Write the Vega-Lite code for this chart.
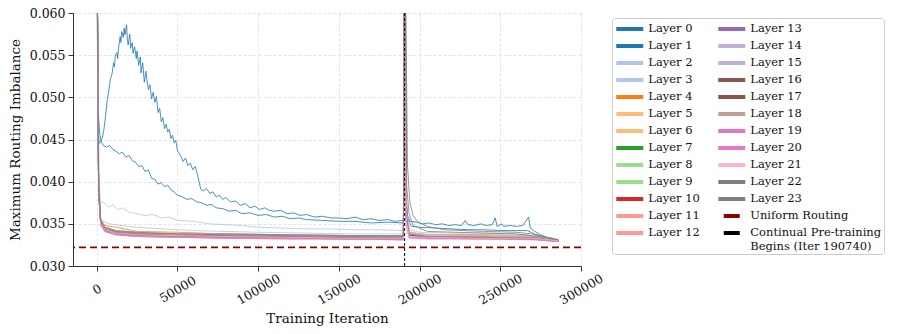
{
"$schema":"https://vega.github.io/schema/vega-lite/v6.json",
"width":508,"height":253,
"autosize":{"type":"none"},
"padding":{"left":73,"top":13,"right":316,"bottom":68},
"background":"white",
"config":{
 "view":{"stroke":null},
 "axis":{"labelFont":"DejaVu Serif","titleFont":"DejaVu Serif","labelFontSize":12.5,"titleFontSize":13.5,"titleFontWeight":"normal","domainColor":"#333","domainWidth":1,"tickColor":"#333","tickSize":5,"labelColor":"#111","titleColor":"#111","gridColor":"#dcdcdc","gridDash":[3,2],"gridWidth":0.8},
 "legend":{"labelFont":"DejaVu Serif","labelFontSize":11.5,"labelColor":"#111","symbolType":"M-2,0H2","symbolStrokeWidth":4,"symbolSize":182,"symbolOffset":6.75,"symbolOpacity":1,"labelOffset":9.5,"rowPadding":-0.2,"columnPadding":10,"padding":2,"fillColor":"white","strokeColor":"#cccccc","cornerRadius":3,"labelLimit":300}
},
"datasets":{"lines":[
{"l":"Layer 0","x":0,"y":0.075},{"l":"Layer 0","x":800,"y":0.047},{"l":"Layer 0","x":1500,"y":0.0445},{"l":"Layer 0","x":2500,"y":0.0448},{"l":"Layer 0","x":3500,"y":0.0452},{"l":"Layer 0","x":4500,"y":0.0462},{"l":"Layer 0","x":5500,"y":0.0478},{"l":"Layer 0","x":6500,"y":0.0496},{"l":"Layer 0","x":7500,"y":0.0508},{"l":"Layer 0","x":8500,"y":0.0522},{"l":"Layer 0","x":9500,"y":0.0528},{"l":"Layer 0","x":10500,"y":0.0541},{"l":"Layer 0","x":11000,"y":0.0536},{"l":"Layer 0","x":11500,"y":0.0549},{"l":"Layer 0","x":12500,"y":0.0553},{"l":"Layer 0","x":13000,"y":0.0546},{"l":"Layer 0","x":13500,"y":0.0558},{"l":"Layer 0","x":14500,"y":0.0572},{"l":"Layer 0","x":15000,"y":0.0565},{"l":"Layer 0","x":15500,"y":0.0578},{"l":"Layer 0","x":16500,"y":0.0571},{"l":"Layer 0","x":17000,"y":0.0582},{"l":"Layer 0","x":17500,"y":0.0574},{"l":"Layer 0","x":18500,"y":0.0586},{"l":"Layer 0","x":19000,"y":0.0569},{"l":"Layer 0","x":19500,"y":0.0562},{"l":"Layer 0","x":20500,"y":0.0575},{"l":"Layer 0","x":21000,"y":0.0558},{"l":"Layer 0","x":22000,"y":0.0565},{"l":"Layer 0","x":22500,"y":0.0552},{"l":"Layer 0","x":23500,"y":0.056},{"l":"Layer 0","x":24500,"y":0.0546},{"l":"Layer 0","x":25000,"y":0.0555},{"l":"Layer 0","x":26000,"y":0.0538},{"l":"Layer 0","x":27000,"y":0.0548},{"l":"Layer 0","x":27500,"y":0.0529},{"l":"Layer 0","x":28500,"y":0.0541},{"l":"Layer 0","x":29500,"y":0.0518},{"l":"Layer 0","x":30500,"y":0.0531},{"l":"Layer 0","x":31000,"y":0.0522},{"l":"Layer 0","x":32000,"y":0.0509},{"l":"Layer 0","x":33000,"y":0.0515},{"l":"Layer 0","x":34000,"y":0.0498},{"l":"Layer 0","x":35000,"y":0.0506},{"l":"Layer 0","x":36000,"y":0.0494},{"l":"Layer 0","x":37000,"y":0.0501},{"l":"Layer 0","x":38000,"y":0.0482},{"l":"Layer 0","x":39000,"y":0.0487},{"l":"Layer 0","x":40000,"y":0.0471},{"l":"Layer 0","x":41000,"y":0.0476},{"l":"Layer 0","x":42000,"y":0.0463},{"l":"Layer 0","x":43000,"y":0.0468},{"l":"Layer 0","x":44000,"y":0.0459},{"l":"Layer 0","x":45000,"y":0.0462},{"l":"Layer 0","x":46000,"y":0.0451},{"l":"Layer 0","x":47000,"y":0.0455},{"l":"Layer 0","x":48000,"y":0.0446},{"l":"Layer 0","x":49000,"y":0.0449},{"l":"Layer 0","x":50000,"y":0.0437},{"l":"Layer 0","x":52000,"y":0.0431},{"l":"Layer 0","x":53500,"y":0.0424},{"l":"Layer 0","x":55000,"y":0.0428},{"l":"Layer 0","x":56500,"y":0.0419},{"l":"Layer 0","x":58000,"y":0.0422},{"l":"Layer 0","x":59500,"y":0.0414},{"l":"Layer 0","x":61000,"y":0.0418},{"l":"Layer 0","x":62500,"y":0.0408},{"l":"Layer 0","x":63500,"y":0.0399},{"l":"Layer 0","x":64500,"y":0.0391},{"l":"Layer 0","x":66000,"y":0.0389},{"l":"Layer 0","x":68000,"y":0.0392},{"l":"Layer 0","x":70000,"y":0.0386},{"l":"Layer 0","x":72000,"y":0.0388},{"l":"Layer 0","x":74000,"y":0.0382},{"l":"Layer 0","x":76000,"y":0.0384},{"l":"Layer 0","x":78000,"y":0.0379},{"l":"Layer 0","x":80000,"y":0.0381},{"l":"Layer 0","x":83000,"y":0.0376},{"l":"Layer 0","x":86000,"y":0.0377},{"l":"Layer 0","x":89000,"y":0.0372},{"l":"Layer 0","x":92000,"y":0.0374},{"l":"Layer 0","x":95000,"y":0.0369},{"l":"Layer 0","x":98000,"y":0.0371},{"l":"Layer 0","x":101000,"y":0.0367},{"l":"Layer 0","x":104000,"y":0.0369},{"l":"Layer 0","x":107000,"y":0.0366},{"l":"Layer 0","x":110000,"y":0.0365},{"l":"Layer 0","x":114000,"y":0.0366},{"l":"Layer 0","x":118000,"y":0.0362},{"l":"Layer 0","x":122000,"y":0.0363},{"l":"Layer 0","x":126000,"y":0.036},{"l":"Layer 0","x":130000,"y":0.0361},{"l":"Layer 0","x":135000,"y":0.0358},{"l":"Layer 0","x":140000,"y":0.0359},{"l":"Layer 0","x":145000,"y":0.0357},{"l":"Layer 0","x":150000,"y":0.0357},{"l":"Layer 0","x":155000,"y":0.0356},{"l":"Layer 0","x":160000,"y":0.0358},{"l":"Layer 0","x":165000,"y":0.0355},{"l":"Layer 0","x":170000,"y":0.0356},{"l":"Layer 0","x":175000,"y":0.0354},{"l":"Layer 0","x":180000,"y":0.0355},{"l":"Layer 0","x":185000,"y":0.0353},{"l":"Layer 0","x":190000,"y":0.0354},{"l":"Layer 0","x":190740,"y":0.075},{"l":"Layer 0","x":191500,"y":0.039},{"l":"Layer 0","x":192500,"y":0.036},{"l":"Layer 0","x":194000,"y":0.0353},{"l":"Layer 0","x":198000,"y":0.0352},{"l":"Layer 0","x":202000,"y":0.035},{"l":"Layer 0","x":206000,"y":0.0351},{"l":"Layer 0","x":210000,"y":0.0349},{"l":"Layer 0","x":214000,"y":0.035},{"l":"Layer 0","x":218000,"y":0.0348},{"l":"Layer 0","x":222000,"y":0.0349},{"l":"Layer 0","x":226000,"y":0.0348},{"l":"Layer 0","x":228300,"y":0.0354},{"l":"Layer 0","x":230000,"y":0.0349},{"l":"Layer 0","x":234000,"y":0.0348},{"l":"Layer 0","x":238000,"y":0.035},{"l":"Layer 0","x":241000,"y":0.0348},{"l":"Layer 0","x":245000,"y":0.0349},{"l":"Layer 0","x":246900,"y":0.0357},{"l":"Layer 0","x":248000,"y":0.0347},{"l":"Layer 0","x":251000,"y":0.035},{"l":"Layer 0","x":252000,"y":0.0347},{"l":"Layer 0","x":256000,"y":0.0348},{"l":"Layer 0","x":260000,"y":0.0347},{"l":"Layer 0","x":264000,"y":0.0348},{"l":"Layer 0","x":267500,"y":0.0358},{"l":"Layer 0","x":268600,"y":0.0345},{"l":"Layer 0","x":270700,"y":0.0342},{"l":"Layer 0","x":274800,"y":0.0337},{"l":"Layer 0","x":278900,"y":0.0334},{"l":"Layer 0","x":282000,"y":0.0333},{"l":"Layer 0","x":286000,"y":0.0331},
{"l":"Layer 1","x":0,"y":0.07},{"l":"Layer 1","x":600,"y":0.052},{"l":"Layer 1","x":1200,"y":0.0475},{"l":"Layer 1","x":2000,"y":0.0455},{"l":"Layer 1","x":3000,"y":0.0447},{"l":"Layer 1","x":4000,"y":0.0443},{"l":"Layer 1","x":6000,"y":0.0441},{"l":"Layer 1","x":8000,"y":0.0443},{"l":"Layer 1","x":10000,"y":0.0438},{"l":"Layer 1","x":12000,"y":0.0436},{"l":"Layer 1","x":14000,"y":0.0433},{"l":"Layer 1","x":16000,"y":0.0435},{"l":"Layer 1","x":18000,"y":0.0429},{"l":"Layer 1","x":20000,"y":0.0431},{"l":"Layer 1","x":22000,"y":0.0425},{"l":"Layer 1","x":24000,"y":0.0423},{"l":"Layer 1","x":26000,"y":0.0418},{"l":"Layer 1","x":28000,"y":0.0419},{"l":"Layer 1","x":30000,"y":0.0412},{"l":"Layer 1","x":32000,"y":0.0414},{"l":"Layer 1","x":34000,"y":0.0404},{"l":"Layer 1","x":36000,"y":0.0403},{"l":"Layer 1","x":38000,"y":0.0397},{"l":"Layer 1","x":40000,"y":0.0399},{"l":"Layer 1","x":42000,"y":0.0394},{"l":"Layer 1","x":44000,"y":0.0396},{"l":"Layer 1","x":46000,"y":0.039},{"l":"Layer 1","x":48000,"y":0.0388},{"l":"Layer 1","x":50000,"y":0.0384},{"l":"Layer 1","x":53000,"y":0.0382},{"l":"Layer 1","x":56000,"y":0.0379},{"l":"Layer 1","x":59000,"y":0.038},{"l":"Layer 1","x":62000,"y":0.0376},{"l":"Layer 1","x":65000,"y":0.0375},{"l":"Layer 1","x":68000,"y":0.0372},{"l":"Layer 1","x":71000,"y":0.0373},{"l":"Layer 1","x":74000,"y":0.0369},{"l":"Layer 1","x":78000,"y":0.0368},{"l":"Layer 1","x":82000,"y":0.0365},{"l":"Layer 1","x":86000,"y":0.0366},{"l":"Layer 1","x":90000,"y":0.0362},{"l":"Layer 1","x":95000,"y":0.0363},{"l":"Layer 1","x":100000,"y":0.036},{"l":"Layer 1","x":105000,"y":0.0361},{"l":"Layer 1","x":110000,"y":0.0358},{"l":"Layer 1","x":115000,"y":0.0359},{"l":"Layer 1","x":120000,"y":0.0356},{"l":"Layer 1","x":125000,"y":0.0357},{"l":"Layer 1","x":130000,"y":0.0355},{"l":"Layer 1","x":140000,"y":0.0354},{"l":"Layer 1","x":150000,"y":0.0353},{"l":"Layer 1","x":160000,"y":0.0353},{"l":"Layer 1","x":170000,"y":0.0351},{"l":"Layer 1","x":180000,"y":0.0352},{"l":"Layer 1","x":190000,"y":0.0351},{"l":"Layer 1","x":190740,"y":0.075},{"l":"Layer 1","x":191500,"y":0.0385},{"l":"Layer 1","x":192500,"y":0.0356},{"l":"Layer 1","x":195000,"y":0.0347},{"l":"Layer 1","x":200000,"y":0.0346},{"l":"Layer 1","x":210000,"y":0.0345},{"l":"Layer 1","x":220000,"y":0.0344},{"l":"Layer 1","x":230000,"y":0.0343},{"l":"Layer 1","x":240000,"y":0.0343},{"l":"Layer 1","x":250000,"y":0.0342},{"l":"Layer 1","x":260000,"y":0.0342},{"l":"Layer 1","x":267000,"y":0.0342},{"l":"Layer 1","x":270000,"y":0.0339},{"l":"Layer 1","x":274000,"y":0.0336},{"l":"Layer 1","x":278000,"y":0.0334},{"l":"Layer 1","x":282000,"y":0.0332},{"l":"Layer 1","x":286000,"y":0.0331},
{"l":"Layer 2","x":0,"y":0.07},{"l":"Layer 2","x":1500,"y":0.04},{"l":"Layer 2","x":2500,"y":0.0374},{"l":"Layer 2","x":4000,"y":0.0376},{"l":"Layer 2","x":6000,"y":0.0372},{"l":"Layer 2","x":8000,"y":0.037},{"l":"Layer 2","x":10000,"y":0.0373},{"l":"Layer 2","x":13000,"y":0.0367},{"l":"Layer 2","x":16000,"y":0.0369},{"l":"Layer 2","x":20000,"y":0.0364},{"l":"Layer 2","x":25000,"y":0.0362},{"l":"Layer 2","x":30000,"y":0.036},{"l":"Layer 2","x":35000,"y":0.0361},{"l":"Layer 2","x":40000,"y":0.0357},{"l":"Layer 2","x":45000,"y":0.0358},{"l":"Layer 2","x":50000,"y":0.0354},{"l":"Layer 2","x":60000,"y":0.0353},{"l":"Layer 2","x":70000,"y":0.035},{"l":"Layer 2","x":80000,"y":0.0349},{"l":"Layer 2","x":90000,"y":0.0348},{"l":"Layer 2","x":100000,"y":0.0346},{"l":"Layer 2","x":115000,"y":0.0345},{"l":"Layer 2","x":130000,"y":0.0344},{"l":"Layer 2","x":145000,"y":0.0344},{"l":"Layer 2","x":160000,"y":0.0343},{"l":"Layer 2","x":175000,"y":0.0343},{"l":"Layer 2","x":190000,"y":0.0342},{"l":"Layer 2","x":190740,"y":0.075},{"l":"Layer 2","x":192000,"y":0.036},{"l":"Layer 2","x":194000,"y":0.0343},{"l":"Layer 2","x":200000,"y":0.034},{"l":"Layer 2","x":220000,"y":0.0339},{"l":"Layer 2","x":240000,"y":0.0339},{"l":"Layer 2","x":260000,"y":0.0338},{"l":"Layer 2","x":270000,"y":0.0336},{"l":"Layer 2","x":286000,"y":0.0331},
{"l":"Layer 3","x":0,"y":0.07},{"l":"Layer 3","x":1500,"y":0.038},{"l":"Layer 3","x":2500,"y":0.0355},{"l":"Layer 3","x":4000,"y":0.0353},{"l":"Layer 3","x":8000,"y":0.035},{"l":"Layer 3","x":15000,"y":0.0348},{"l":"Layer 3","x":25000,"y":0.0346},{"l":"Layer 3","x":40000,"y":0.0344},{"l":"Layer 3","x":60000,"y":0.0342},{"l":"Layer 3","x":80000,"y":0.0341},{"l":"Layer 3","x":100000,"y":0.034},{"l":"Layer 3","x":130000,"y":0.0339},{"l":"Layer 3","x":160000,"y":0.0338},{"l":"Layer 3","x":190000,"y":0.0338},{"l":"Layer 3","x":190740,"y":0.075},{"l":"Layer 3","x":192000,"y":0.0355},{"l":"Layer 3","x":194000,"y":0.034},{"l":"Layer 3","x":200000,"y":0.0338},{"l":"Layer 3","x":230000,"y":0.0337},{"l":"Layer 3","x":260000,"y":0.0336},{"l":"Layer 3","x":270000,"y":0.0335},{"l":"Layer 3","x":286000,"y":0.0331},
{"l":"Layer 4","x":0,"y":0.075},{"l":"Layer 4","x":1200,"y":0.0395},{"l":"Layer 4","x":2500,"y":0.0356},{"l":"Layer 4","x":5000,"y":0.0348},{"l":"Layer 4","x":12000,"y":0.0346},{"l":"Layer 4","x":25000,"y":0.0341},{"l":"Layer 4","x":50000,"y":0.034},{"l":"Layer 4","x":80000,"y":0.0338},{"l":"Layer 4","x":120000,"y":0.0337},{"l":"Layer 4","x":160000,"y":0.0336},{"l":"Layer 4","x":190000,"y":0.0336},{"l":"Layer 4","x":190740,"y":0.075},{"l":"Layer 4","x":191600,"y":0.0366},{"l":"Layer 4","x":193500,"y":0.034},{"l":"Layer 4","x":205000,"y":0.0337},{"l":"Layer 4","x":240000,"y":0.0337},{"l":"Layer 4","x":270000,"y":0.0336},{"l":"Layer 4","x":286000,"y":0.0331},
{"l":"Layer 5","x":0,"y":0.075},{"l":"Layer 5","x":1200,"y":0.0393},{"l":"Layer 5","x":2500,"y":0.0354},{"l":"Layer 5","x":5000,"y":0.0346},{"l":"Layer 5","x":12000,"y":0.0342},{"l":"Layer 5","x":25000,"y":0.034},{"l":"Layer 5","x":50000,"y":0.0339},{"l":"Layer 5","x":80000,"y":0.0338},{"l":"Layer 5","x":120000,"y":0.0337},{"l":"Layer 5","x":160000,"y":0.0336},{"l":"Layer 5","x":190000,"y":0.0336},{"l":"Layer 5","x":190740,"y":0.075},{"l":"Layer 5","x":191600,"y":0.0364},{"l":"Layer 5","x":193500,"y":0.034},{"l":"Layer 5","x":205000,"y":0.0337},{"l":"Layer 5","x":240000,"y":0.0336},{"l":"Layer 5","x":270000,"y":0.0336},{"l":"Layer 5","x":286000,"y":0.0331},
{"l":"Layer 6","x":0,"y":0.075},{"l":"Layer 6","x":1200,"y":0.0391},{"l":"Layer 6","x":2500,"y":0.0353},{"l":"Layer 6","x":5000,"y":0.0345},{"l":"Layer 6","x":12000,"y":0.0341},{"l":"Layer 6","x":25000,"y":0.0339},{"l":"Layer 6","x":50000,"y":0.0338},{"l":"Layer 6","x":80000,"y":0.0337},{"l":"Layer 6","x":120000,"y":0.0336},{"l":"Layer 6","x":160000,"y":0.0335},{"l":"Layer 6","x":190000,"y":0.0335},{"l":"Layer 6","x":190740,"y":0.075},{"l":"Layer 6","x":191600,"y":0.0363},{"l":"Layer 6","x":193500,"y":0.0339},{"l":"Layer 6","x":205000,"y":0.0336},{"l":"Layer 6","x":240000,"y":0.0336},{"l":"Layer 6","x":270000,"y":0.0335},{"l":"Layer 6","x":286000,"y":0.033},
{"l":"Layer 7","x":0,"y":0.075},{"l":"Layer 7","x":1200,"y":0.0388},{"l":"Layer 7","x":2500,"y":0.035},{"l":"Layer 7","x":5000,"y":0.0342},{"l":"Layer 7","x":12000,"y":0.0338},{"l":"Layer 7","x":25000,"y":0.0336},{"l":"Layer 7","x":50000,"y":0.0335},{"l":"Layer 7","x":80000,"y":0.0334},{"l":"Layer 7","x":120000,"y":0.0333},{"l":"Layer 7","x":160000,"y":0.0332},{"l":"Layer 7","x":190000,"y":0.0332},{"l":"Layer 7","x":190740,"y":0.075},{"l":"Layer 7","x":191600,"y":0.036},{"l":"Layer 7","x":193500,"y":0.0336},{"l":"Layer 7","x":205000,"y":0.0333},{"l":"Layer 7","x":240000,"y":0.0333},{"l":"Layer 7","x":270000,"y":0.0332},{"l":"Layer 7","x":286000,"y":0.0329},
{"l":"Layer 8","x":0,"y":0.075},{"l":"Layer 8","x":1200,"y":0.039},{"l":"Layer 8","x":2500,"y":0.0352},{"l":"Layer 8","x":5000,"y":0.0344},{"l":"Layer 8","x":12000,"y":0.034},{"l":"Layer 8","x":25000,"y":0.0338},{"l":"Layer 8","x":50000,"y":0.0337},{"l":"Layer 8","x":80000,"y":0.0336},{"l":"Layer 8","x":120000,"y":0.0335},{"l":"Layer 8","x":160000,"y":0.0334},{"l":"Layer 8","x":190000,"y":0.0334},{"l":"Layer 8","x":190740,"y":0.075},{"l":"Layer 8","x":191600,"y":0.0362},{"l":"Layer 8","x":193500,"y":0.0338},{"l":"Layer 8","x":205000,"y":0.0335},{"l":"Layer 8","x":240000,"y":0.0335},{"l":"Layer 8","x":270000,"y":0.0334},{"l":"Layer 8","x":286000,"y":0.033},
{"l":"Layer 9","x":0,"y":0.075},{"l":"Layer 9","x":1200,"y":0.0392},{"l":"Layer 9","x":2500,"y":0.0353},{"l":"Layer 9","x":5000,"y":0.0345},{"l":"Layer 9","x":12000,"y":0.0341},{"l":"Layer 9","x":25000,"y":0.0339},{"l":"Layer 9","x":50000,"y":0.0337},{"l":"Layer 9","x":80000,"y":0.0337},{"l":"Layer 9","x":120000,"y":0.0336},{"l":"Layer 9","x":160000,"y":0.0335},{"l":"Layer 9","x":190000,"y":0.0334},{"l":"Layer 9","x":190740,"y":0.075},{"l":"Layer 9","x":191600,"y":0.0362},{"l":"Layer 9","x":193500,"y":0.0339},{"l":"Layer 9","x":205000,"y":0.0336},{"l":"Layer 9","x":240000,"y":0.0335},{"l":"Layer 9","x":270000,"y":0.0335},{"l":"Layer 9","x":286000,"y":0.033},
{"l":"Layer 10","x":0,"y":0.075},{"l":"Layer 10","x":1200,"y":0.0389},{"l":"Layer 10","x":2500,"y":0.0351},{"l":"Layer 10","x":5000,"y":0.0343},{"l":"Layer 10","x":12000,"y":0.0339},{"l":"Layer 10","x":25000,"y":0.0337},{"l":"Layer 10","x":50000,"y":0.0336},{"l":"Layer 10","x":80000,"y":0.0335},{"l":"Layer 10","x":120000,"y":0.0334},{"l":"Layer 10","x":160000,"y":0.0333},{"l":"Layer 10","x":190000,"y":0.0333},{"l":"Layer 10","x":190740,"y":0.075},{"l":"Layer 10","x":191600,"y":0.0361},{"l":"Layer 10","x":193500,"y":0.0337},{"l":"Layer 10","x":205000,"y":0.0334},{"l":"Layer 10","x":240000,"y":0.0334},{"l":"Layer 10","x":270000,"y":0.0333},{"l":"Layer 10","x":286000,"y":0.033},
{"l":"Layer 11","x":0,"y":0.075},{"l":"Layer 11","x":1200,"y":0.0387},{"l":"Layer 11","x":2500,"y":0.0349},{"l":"Layer 11","x":5000,"y":0.0341},{"l":"Layer 11","x":12000,"y":0.0337},{"l":"Layer 11","x":25000,"y":0.0335},{"l":"Layer 11","x":50000,"y":0.0334},{"l":"Layer 11","x":80000,"y":0.0333},{"l":"Layer 11","x":120000,"y":0.0332},{"l":"Layer 11","x":160000,"y":0.0332},{"l":"Layer 11","x":190000,"y":0.0331},{"l":"Layer 11","x":190740,"y":0.075},{"l":"Layer 11","x":191600,"y":0.0359},{"l":"Layer 11","x":193500,"y":0.0335},{"l":"Layer 11","x":205000,"y":0.0333},{"l":"Layer 11","x":240000,"y":0.0332},{"l":"Layer 11","x":270000,"y":0.0332},{"l":"Layer 11","x":286000,"y":0.0329},
{"l":"Layer 12","x":0,"y":0.075},{"l":"Layer 12","x":1200,"y":0.0388},{"l":"Layer 12","x":2500,"y":0.035},{"l":"Layer 12","x":5000,"y":0.0342},{"l":"Layer 12","x":12000,"y":0.0338},{"l":"Layer 12","x":25000,"y":0.0336},{"l":"Layer 12","x":50000,"y":0.0335},{"l":"Layer 12","x":80000,"y":0.0334},{"l":"Layer 12","x":120000,"y":0.0333},{"l":"Layer 12","x":160000,"y":0.0333},{"l":"Layer 12","x":190000,"y":0.0332},{"l":"Layer 12","x":190740,"y":0.075},{"l":"Layer 12","x":191600,"y":0.036},{"l":"Layer 12","x":193500,"y":0.0336},{"l":"Layer 12","x":205000,"y":0.0333},{"l":"Layer 12","x":240000,"y":0.0333},{"l":"Layer 12","x":270000,"y":0.0333},{"l":"Layer 12","x":286000,"y":0.0329},
{"l":"Layer 13","x":0,"y":0.075},{"l":"Layer 13","x":1200,"y":0.0391},{"l":"Layer 13","x":2500,"y":0.0352},{"l":"Layer 13","x":5000,"y":0.0343},{"l":"Layer 13","x":12000,"y":0.034},{"l":"Layer 13","x":25000,"y":0.0338},{"l":"Layer 13","x":50000,"y":0.0336},{"l":"Layer 13","x":80000,"y":0.0336},{"l":"Layer 13","x":120000,"y":0.0335},{"l":"Layer 13","x":160000,"y":0.0334},{"l":"Layer 13","x":190000,"y":0.0333},{"l":"Layer 13","x":190740,"y":0.075},{"l":"Layer 13","x":191600,"y":0.0361},{"l":"Layer 13","x":193500,"y":0.0338},{"l":"Layer 13","x":205000,"y":0.0335},{"l":"Layer 13","x":240000,"y":0.0334},{"l":"Layer 13","x":270000,"y":0.0334},{"l":"Layer 13","x":286000,"y":0.033},
{"l":"Layer 14","x":0,"y":0.075},{"l":"Layer 14","x":1200,"y":0.0393},{"l":"Layer 14","x":2500,"y":0.0354},{"l":"Layer 14","x":5000,"y":0.0346},{"l":"Layer 14","x":12000,"y":0.0342},{"l":"Layer 14","x":25000,"y":0.034},{"l":"Layer 14","x":50000,"y":0.0338},{"l":"Layer 14","x":80000,"y":0.0338},{"l":"Layer 14","x":120000,"y":0.0337},{"l":"Layer 14","x":160000,"y":0.0336},{"l":"Layer 14","x":190000,"y":0.0335},{"l":"Layer 14","x":190740,"y":0.075},{"l":"Layer 14","x":191600,"y":0.0363},{"l":"Layer 14","x":193500,"y":0.0339},{"l":"Layer 14","x":205000,"y":0.0337},{"l":"Layer 14","x":240000,"y":0.0336},{"l":"Layer 14","x":270000,"y":0.0336},{"l":"Layer 14","x":286000,"y":0.0331},
{"l":"Layer 15","x":0,"y":0.075},{"l":"Layer 15","x":1200,"y":0.0389},{"l":"Layer 15","x":2500,"y":0.0351},{"l":"Layer 15","x":5000,"y":0.0343},{"l":"Layer 15","x":12000,"y":0.0339},{"l":"Layer 15","x":25000,"y":0.0337},{"l":"Layer 15","x":50000,"y":0.0336},{"l":"Layer 15","x":80000,"y":0.0335},{"l":"Layer 15","x":120000,"y":0.0334},{"l":"Layer 15","x":160000,"y":0.0334},{"l":"Layer 15","x":190000,"y":0.0333},{"l":"Layer 15","x":190740,"y":0.075},{"l":"Layer 15","x":191600,"y":0.036},{"l":"Layer 15","x":193500,"y":0.0337},{"l":"Layer 15","x":205000,"y":0.0334},{"l":"Layer 15","x":240000,"y":0.0334},{"l":"Layer 15","x":270000,"y":0.0333},{"l":"Layer 15","x":286000,"y":0.033},
{"l":"Layer 16","x":0,"y":0.075},{"l":"Layer 16","x":1200,"y":0.0388},{"l":"Layer 16","x":2500,"y":0.035},{"l":"Layer 16","x":5000,"y":0.0342},{"l":"Layer 16","x":12000,"y":0.0338},{"l":"Layer 16","x":25000,"y":0.0336},{"l":"Layer 16","x":50000,"y":0.0335},{"l":"Layer 16","x":80000,"y":0.0334},{"l":"Layer 16","x":120000,"y":0.0334},{"l":"Layer 16","x":160000,"y":0.0333},{"l":"Layer 16","x":190000,"y":0.0332},{"l":"Layer 16","x":190740,"y":0.075},{"l":"Layer 16","x":191600,"y":0.0359},{"l":"Layer 16","x":193500,"y":0.0336},{"l":"Layer 16","x":205000,"y":0.0334},{"l":"Layer 16","x":240000,"y":0.0333},{"l":"Layer 16","x":270000,"y":0.0332},{"l":"Layer 16","x":286000,"y":0.0329},
{"l":"Layer 17","x":0,"y":0.075},{"l":"Layer 17","x":1200,"y":0.0389},{"l":"Layer 17","x":2500,"y":0.0351},{"l":"Layer 17","x":5000,"y":0.0343},{"l":"Layer 17","x":12000,"y":0.0339},{"l":"Layer 17","x":25000,"y":0.0337},{"l":"Layer 17","x":50000,"y":0.0336},{"l":"Layer 17","x":80000,"y":0.0335},{"l":"Layer 17","x":120000,"y":0.0334},{"l":"Layer 17","x":160000,"y":0.0333},{"l":"Layer 17","x":190000,"y":0.0333},{"l":"Layer 17","x":190740,"y":0.075},{"l":"Layer 17","x":191600,"y":0.036},{"l":"Layer 17","x":193500,"y":0.0337},{"l":"Layer 17","x":205000,"y":0.0334},{"l":"Layer 17","x":240000,"y":0.0334},{"l":"Layer 17","x":270000,"y":0.0333},{"l":"Layer 17","x":286000,"y":0.033},
{"l":"Layer 18","x":0,"y":0.075},{"l":"Layer 18","x":1200,"y":0.0387},{"l":"Layer 18","x":2500,"y":0.0349},{"l":"Layer 18","x":5000,"y":0.0341},{"l":"Layer 18","x":12000,"y":0.0337},{"l":"Layer 18","x":25000,"y":0.0335},{"l":"Layer 18","x":50000,"y":0.0334},{"l":"Layer 18","x":80000,"y":0.0333},{"l":"Layer 18","x":120000,"y":0.0333},{"l":"Layer 18","x":160000,"y":0.0332},{"l":"Layer 18","x":190000,"y":0.0331},{"l":"Layer 18","x":190740,"y":0.075},{"l":"Layer 18","x":191600,"y":0.0358},{"l":"Layer 18","x":193500,"y":0.0335},{"l":"Layer 18","x":205000,"y":0.0333},{"l":"Layer 18","x":240000,"y":0.0332},{"l":"Layer 18","x":270000,"y":0.0332},{"l":"Layer 18","x":286000,"y":0.0329},
{"l":"Layer 19","x":0,"y":0.075},{"l":"Layer 19","x":1200,"y":0.0388},{"l":"Layer 19","x":2500,"y":0.035},{"l":"Layer 19","x":5000,"y":0.0342},{"l":"Layer 19","x":12000,"y":0.0338},{"l":"Layer 19","x":25000,"y":0.0336},{"l":"Layer 19","x":50000,"y":0.0335},{"l":"Layer 19","x":80000,"y":0.0334},{"l":"Layer 19","x":120000,"y":0.0333},{"l":"Layer 19","x":160000,"y":0.0332},{"l":"Layer 19","x":190000,"y":0.0332},{"l":"Layer 19","x":190740,"y":0.075},{"l":"Layer 19","x":191600,"y":0.0352},{"l":"Layer 19","x":193500,"y":0.0334},{"l":"Layer 19","x":205000,"y":0.0333},{"l":"Layer 19","x":240000,"y":0.0333},{"l":"Layer 19","x":270000,"y":0.0332},{"l":"Layer 19","x":286000,"y":0.0329},
{"l":"Layer 20","x":0,"y":0.075},{"l":"Layer 20","x":1200,"y":0.0387},{"l":"Layer 20","x":2500,"y":0.0349},{"l":"Layer 20","x":5000,"y":0.0341},{"l":"Layer 20","x":12000,"y":0.0337},{"l":"Layer 20","x":25000,"y":0.0335},{"l":"Layer 20","x":50000,"y":0.0334},{"l":"Layer 20","x":80000,"y":0.0333},{"l":"Layer 20","x":120000,"y":0.0332},{"l":"Layer 20","x":160000,"y":0.0332},{"l":"Layer 20","x":190000,"y":0.0331},{"l":"Layer 20","x":190740,"y":0.075},{"l":"Layer 20","x":191600,"y":0.035},{"l":"Layer 20","x":193500,"y":0.0333},{"l":"Layer 20","x":205000,"y":0.0332},{"l":"Layer 20","x":240000,"y":0.0332},{"l":"Layer 20","x":270000,"y":0.0331},{"l":"Layer 20","x":286000,"y":0.0329},
{"l":"Layer 21","x":0,"y":0.075},{"l":"Layer 21","x":1200,"y":0.0389},{"l":"Layer 21","x":2500,"y":0.0351},{"l":"Layer 21","x":5000,"y":0.0343},{"l":"Layer 21","x":12000,"y":0.0339},{"l":"Layer 21","x":25000,"y":0.0337},{"l":"Layer 21","x":50000,"y":0.0336},{"l":"Layer 21","x":80000,"y":0.0335},{"l":"Layer 21","x":120000,"y":0.0334},{"l":"Layer 21","x":160000,"y":0.0333},{"l":"Layer 21","x":190000,"y":0.0333},{"l":"Layer 21","x":190740,"y":0.075},{"l":"Layer 21","x":191600,"y":0.0354},{"l":"Layer 21","x":193500,"y":0.0335},{"l":"Layer 21","x":205000,"y":0.0334},{"l":"Layer 21","x":240000,"y":0.0333},{"l":"Layer 21","x":270000,"y":0.0333},{"l":"Layer 21","x":286000,"y":0.033},
{"l":"Layer 22","x":0,"y":0.075},{"l":"Layer 22","x":1200,"y":0.0391},{"l":"Layer 22","x":2500,"y":0.0353},{"l":"Layer 22","x":5000,"y":0.0345},{"l":"Layer 22","x":12000,"y":0.0341},{"l":"Layer 22","x":25000,"y":0.0339},{"l":"Layer 22","x":50000,"y":0.0338},{"l":"Layer 22","x":80000,"y":0.0337},{"l":"Layer 22","x":120000,"y":0.0336},{"l":"Layer 22","x":160000,"y":0.0335},{"l":"Layer 22","x":190000,"y":0.0335},{"l":"Layer 22","x":190740,"y":0.075},{"l":"Layer 22","x":192500,"y":0.042},{"l":"Layer 22","x":194000,"y":0.0375},{"l":"Layer 22","x":196000,"y":0.036},{"l":"Layer 22","x":199000,"y":0.0352},{"l":"Layer 22","x":205000,"y":0.0347},{"l":"Layer 22","x":215000,"y":0.0343},{"l":"Layer 22","x":240000,"y":0.0341},{"l":"Layer 22","x":260000,"y":0.034},{"l":"Layer 22","x":270000,"y":0.0338},{"l":"Layer 22","x":286000,"y":0.0331},
{"l":"Layer 23","x":0,"y":0.075},{"l":"Layer 23","x":1200,"y":0.0392},{"l":"Layer 23","x":2500,"y":0.0354},{"l":"Layer 23","x":5000,"y":0.0346},{"l":"Layer 23","x":12000,"y":0.0342},{"l":"Layer 23","x":25000,"y":0.034},{"l":"Layer 23","x":50000,"y":0.0338},{"l":"Layer 23","x":80000,"y":0.0338},{"l":"Layer 23","x":120000,"y":0.0337},{"l":"Layer 23","x":160000,"y":0.0336},{"l":"Layer 23","x":190000,"y":0.0336},{"l":"Layer 23","x":190740,"y":0.075},{"l":"Layer 23","x":192000,"y":0.0395},{"l":"Layer 23","x":193500,"y":0.0362},{"l":"Layer 23","x":196000,"y":0.0348},{"l":"Layer 23","x":205000,"y":0.0341},{"l":"Layer 23","x":240000,"y":0.0339},{"l":"Layer 23","x":260000,"y":0.0338},{"l":"Layer 23","x":270000,"y":0.0336},{"l":"Layer 23","x":286000,"y":0.0331}
]},
"layer":[
 {"data":{"name":"lines"},
  "mark":{"type":"line","strokeWidth":0.9,"opacity":0.9,"clip":true},
  "encoding":{
   "x":{"field":"x","type":"quantitative","scale":{"domain":[-14680,300000],"nice":false,"zero":false},
        "axis":{"title":"Training Iteration","values":[0,50000,100000,150000,200000,250000,300000],"format":"d","labelAngle":-30,"labelAlign":"center","labelBaseline":"middle","labelPadding":18,"titleY":52,"titleBaseline":"middle"}},
   "y":{"field":"y","type":"quantitative","scale":{"domain":[0.03,0.06],"nice":false,"zero":false},
        "axis":{"title":"Maximum Routing Imbalance","values":[0.03,0.035,0.04,0.045,0.05,0.055,0.06],"format":".3f","labelPadding":3,"titleX":-58,"titleY":126.5,"titleBaseline":"middle","titleAlign":"center"}},
   "color":{"field":"l","type":"nominal",
     "scale":{"domain":["Layer 0","Layer 1","Layer 2","Layer 3","Layer 4","Layer 5","Layer 6","Layer 7","Layer 8","Layer 9","Layer 10","Layer 11","Layer 12","Layer 13","Layer 14","Layer 15","Layer 16","Layer 17","Layer 18","Layer 19","Layer 20","Layer 21","Layer 22","Layer 23","Uniform Routing","Continual Pre-training Begins (Iter 190740)"],
              "range":["#1f77b4","#1f77b4","#aec7e8","#aec7e8","#ff7f0e","#ffbb78","#ffbb78","#2ca02c","#98df8a","#98df8a","#d62728","#ff9896","#ff9896","#9467bd","#c5b0d5","#c5b0d5","#8c564b","#8c564b","#c49c94","#e377c2","#e377c2","#f7b6d2","#7f7f7f","#7f7f7f","#8b0000","#000000"]},
     "legend":{"title":null,"orient":"none","legendX":539,"legendY":5,"columns":2,
       "labelExpr":"datum.label == 'Continual Pre-training Begins (Iter 190740)' ? ['Continual Pre-training', 'Begins (Iter 190740)'] : datum.label",
       "encode":{"symbols":{"update":{"size":{"signal":"datum.value == 'Uniform Routing' || datum.value == 'Continual Pre-training Begins (Iter 190740)' ? 64 : 182"}}}}}}
  }},
 {"data":{"values":[{"name":"Uniform Routing","v":0.0322}]},
  "mark":{"type":"rule","strokeWidth":1.8,"strokeDash":[7,4]},
  "encoding":{"y":{"field":"v","type":"quantitative"},"color":{"field":"name","type":"nominal"}}},
 {"data":{"values":[{"name":"Continual Pre-training Begins (Iter 190740)","v":190740}]},
  "mark":{"type":"rule","strokeWidth":1,"strokeDash":[3,2]},
  "encoding":{"x":{"field":"v","type":"quantitative"},"color":{"field":"name","type":"nominal"}}}
]
}
